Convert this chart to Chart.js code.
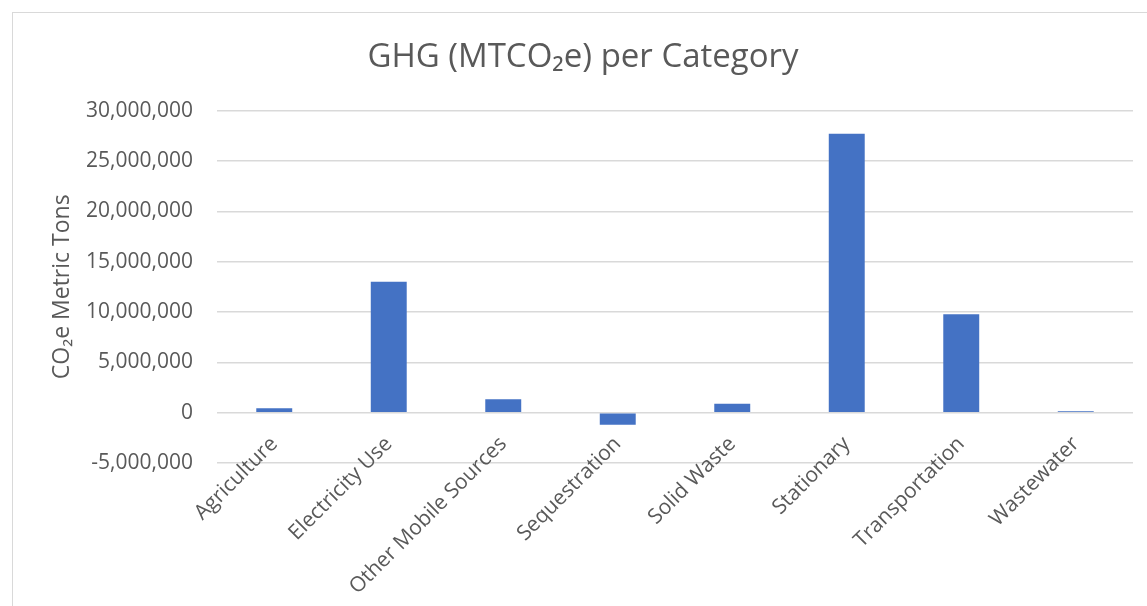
<!DOCTYPE html>
<html>
<head>
<meta charset="utf-8">
<script src="https://cdn.jsdelivr.net/npm/chart.js@4/dist/chart.umd.min.js"></script>
<style>
  html, body { margin: 0; padding: 0; background: #ffffff; overflow: hidden; width: 1147px; height: 606px; }
  #frame { position: absolute; left: 12px; top: 12px; width: 1160px; height: 620px;
           border-left: 1px solid #d9d9d9; border-top: 1px solid #d9d9d9; box-sizing: border-box; }
  #wrap { position: absolute; left: 13px; top: 13px; width: 1148px; height: 593px; }
</style>
</head>
<body>
<div id="frame"></div>
<div id="wrap"><canvas id="c" width="1148" height="593"></canvas></div>
<script>
const categories = ["Agriculture", "Electricity Use", "Other Mobile Sources", "Sequestration",
                    "Solid Waste", "Stationary", "Transportation", "Wastewater"];
const ghgValues = [430000, 13000000, 1320000, -1200000, 880000, 27700000, 9780000, 150000];
const yTickValues = [-5000000, 0, 5000000, 10000000, 15000000, 20000000, 25000000, 30000000];

const chartTitle = "GHG (MTCO\u2082e) per Category";
const yAxisTitle = "CO\u2082e Metric Tons";

const textColor = "#595959";
const fontFamily = "'Open Sans', 'DejaVu Sans', sans-serif";

new Chart(document.getElementById("c"), {
  type: "bar",
  data: {
    labels: categories,
    datasets: [{
      label: "GHG",
      data: ghgValues,
      backgroundColor: "#4472C4",
      borderWidth: 0,
      barPercentage: 0.314,
      categoryPercentage: 1.0
    }]
  },
  options: {
    responsive: false,
    animation: false,
    devicePixelRatio: 1,
    layout: { padding: { left: 20, right: 28, top: 0, bottom: 143 } },
    plugins: {
      legend: { display: false },
      tooltip: { enabled: false },
      title: {
        display: true,
        text: chartTitle,
        color: textColor,
        font: { family: fontFamily, size: 33, weight: "normal", lineHeight: 1.2 },
        padding: { top: 25, bottom: 33 }
      }
    },
    scales: {
      x: {
        position: { y: 0 },
        grid: { display: false, drawTicks: false },
        border: { display: false },
        ticks: {
          color: textColor,
          font: { family: fontFamily, size: 21 },
          minRotation: 45,
          maxRotation: 45,
          autoSkip: false,
          padding: 19
        }
      },
      y: {
        min: -5000000,
        max: 30000000,
        grid: { color: "#d9d9d9", lineWidth: 1.5, drawTicks: false },
        border: { display: false },
        afterBuildTicks: (scale) => { scale.ticks = yTickValues.map(v => ({ value: v })); },
        afterFit: (scale) => { scale.width = 184; },
        ticks: {
          color: textColor,
          font: { family: fontFamily, size: 21 },
          padding: 24,
          callback: (v) => Number(v).toLocaleString("en-US")
        },
        title: {
          display: true,
          text: yAxisTitle,
          color: textColor,
          font: { family: fontFamily, size: 23, lineHeight: 1.2 },
          padding: { top: 16, bottom: 0 }
        }
      }
    }
  }
});
</script>
</body>
</html>
